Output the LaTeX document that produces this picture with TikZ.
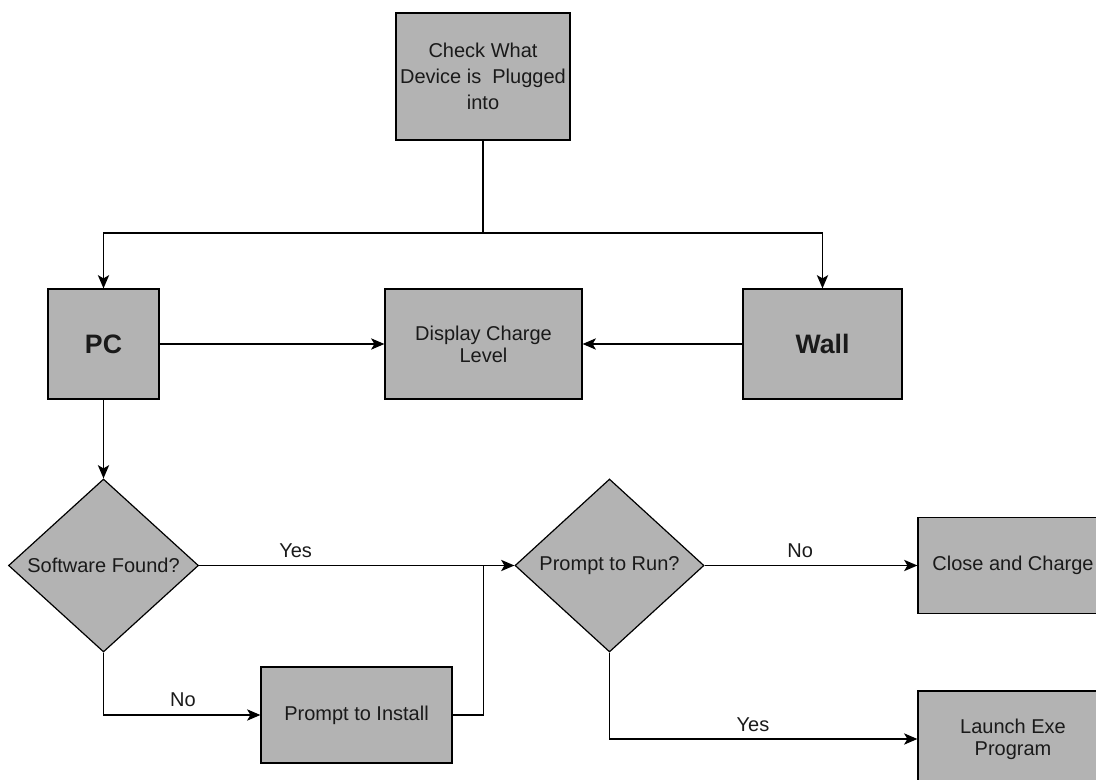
\documentclass[tikz,border=0pt]{standalone}
\usepackage{fontspec}
\setmainfont{Liberation Sans}
\usetikzlibrary{shapes.geometric,arrows.meta}
\definecolor{boxfill}{HTML}{B3B3B3}
\definecolor{ink}{HTML}{1A1A1A}
\begin{document}
\begin{tikzpicture}[x=0.75pt,y=-0.75pt,
  box/.style={draw=black, line width=0.9pt, fill=boxfill, inner sep=0pt, align=center, text=ink, font=\fontsize{15}{16.5}\selectfont},
  bigbox/.style={box, font=\fontsize{20}{24}\selectfont\bfseries},
  dia/.style={diamond, draw=black, line width=0.9pt, fill=boxfill, inner sep=0pt, minimum width=142.5pt, minimum height=129.75pt},
  diatext/.style={text=ink, font=\fontsize{15}{20}\selectfont, inner sep=0pt},
  ln/.style={line width=0.9pt, draw=black},
  arr/.style={ln, -{Stealth[length=10pt, width=8.5pt, inset=2.5pt]}},
  lbl/.style={font=\fontsize{15}{18}\selectfont, text=ink, yshift=11.25pt, inner sep=0pt}]
\useasboundingbox (0,0) rectangle (1096,780);
\clip (0,0) rectangle (1096,780);

\node[box, font=\fontsize{15}{19.5}\selectfont, minimum width=130.5pt, minimum height=95.25pt] (top) at (483,76.5) {Check What\\Device is~ Plugged\\into};
\node[bigbox, minimum width=83.25pt, minimum height=82.5pt] (pc) at (103.5,344) {PC};
\node[box, minimum width=147.75pt, minimum height=82.5pt] (disp) at (483.5,344) {Display Charge\\Level};
\node[bigbox, minimum width=119.25pt, minimum height=82.5pt] (wall) at (822.5,344) {Wall};

\node[dia, label={[diatext]center:Software Found?}] (sf) at (103.5,565.5) {};
\node[dia, minimum width=141.75pt, label={[diatext]center:Prompt to Run?}] (pr) at (609.5,565.5) {};

\node[box, minimum width=143.25pt, minimum height=72pt] (pi) at (356.5,715) {Prompt to Install};
\node[box, minimum width=142.5pt, minimum height=72pt] (close) at (1013,565.5) {Close and Charge};
\node[box, minimum width=142.5pt, minimum height=72pt] (launch) at (1013,739) {Launch Exe\\Program};

\coordinate (split) at (483,233);
\coordinate (merge) at (483.5,565.5);

\draw[ln] (top.south) -- (split);
\draw[arr] (split) -| (pc.north);
\draw[arr] (split) -| (wall.north);
\draw[arr] (pc.east) -- (disp.west);
\draw[arr] (wall.west) -- (disp.east);
\draw[arr] (pc.south) -- (sf.north);

\draw[arr] (sf.east) -- node[lbl, pos=0.306] {Yes} (pr.west);
\draw[arr] (sf.south) |- node[lbl, pos=0.753] {No} (pi.west);
\draw[ln] (pi.east) -| (merge);

\draw[arr] (pr.east) -- node[lbl, pos=0.449] {No} (close.west);
\draw[arr] (pr.south) |- node[lbl, pos=0.733, yshift=-0.75pt] {Yes} (launch.west);
\end{tikzpicture}
\end{document}
